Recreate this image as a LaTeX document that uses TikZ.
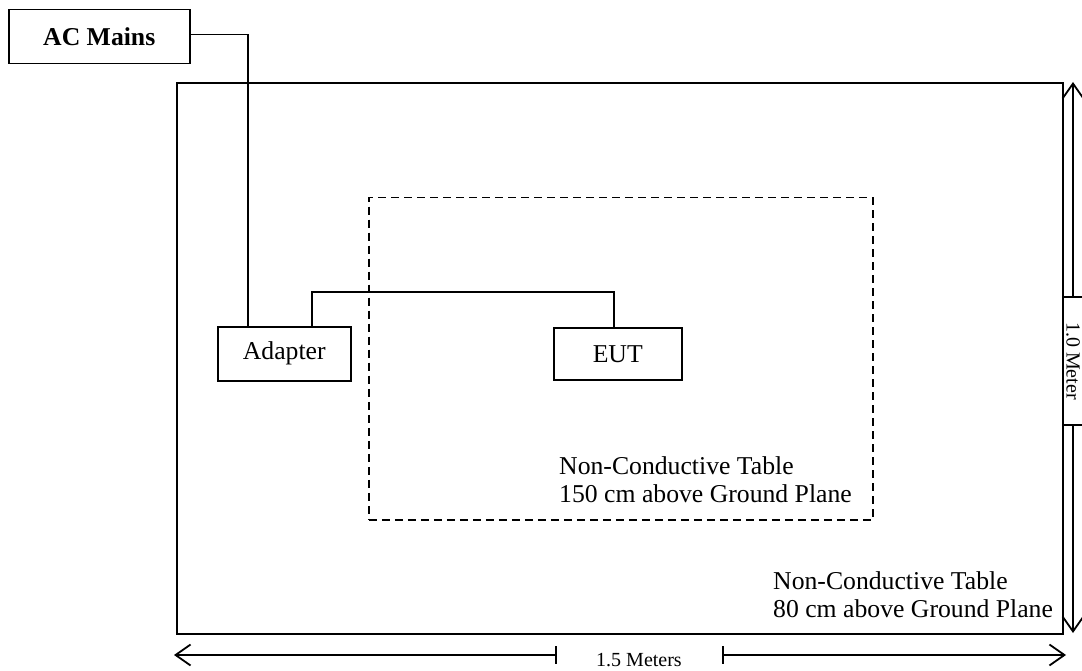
\documentclass[tikz,border=0pt]{standalone}
\usepackage{fontspec}
\setmainfont{Liberation Serif}
\usetikzlibrary{arrows.meta}
\begin{document}
\begin{tikzpicture}[x=1pt,y=-1pt,
  txt/.style={font=\fontsize{25.7}{28}\selectfont},
  box/.style={draw,line width=1.5pt,inner sep=0pt,anchor=north west,txt},
  wire/.style={line width=1.5pt},
  lbl/.style={inner sep=0pt,align=left,anchor=west,txt},
  dim/.style={line width=1.5pt},
  dimtip/.style={-{Straight Barb[length=15pt,width=21pt,line width=1.8pt]}},
  dimlbl/.style={inner sep=0pt,font=\fontsize{20}{24}\selectfont}]
\useasboundingbox (0,0) rectangle (1082,671);
% boxes
\node[box,minimum width=181pt,minimum height=54pt,font=\bfseries\fontsize{25.7}{28}\selectfont] (ac) at (8,9) {AC Mains};
\node[draw,line width=2pt,inner sep=0pt,anchor=north west,minimum width=886pt,minimum height=551pt] (table) at (176,82) {};
\node[draw,dashed,dash pattern=on 8pt off 5pt,line width=1.5pt,inner sep=0pt,anchor=north west,minimum width=504pt,minimum height=322pt] (inner) at (368,197) {};
\node[box,minimum width=133pt,minimum height=54pt] (ad) at (217,326) {Adapter};
\node[box,minimum width=128pt,minimum height=52pt] (eut) at (553,327) {EUT};
% labels
\node[lbl] (l150) at (559,480) {Non-Conductive Table\\150 cm above Ground Plane};
\node[lbl] (l80) at (773,595) {Non-Conductive Table\\80 cm above Ground Plane};
% wires
\draw[wire] ([yshift=2pt]ac.east) -| ([xshift=31pt]ad.north west);
\draw[wire] ([xshift=95pt]ad.north west) -- ++(0,-34) -| ([xshift=61pt]eut.north west);
% vertical dimension
\coordinate (vt) at (1073,82);
\coordinate (vb) at (1073,633);
\coordinate (vk1) at (1073,297);
\coordinate (vk2) at (1073,425);
\node[dimlbl,rotate=-90] (vl) at (1073,361) {1.0 Meter};
\draw[dim] ([xshift=-11pt]vk1) -- ([xshift=9pt]vk1);
\draw[dim] ([xshift=-11pt]vk2) -- ([xshift=9pt]vk2);
\draw[dim,dimtip] (vk1) -- (vt);
\draw[dim,dimtip] (vk2) -- (vb);
% horizontal dimension
\coordinate (hl) at (174,655);
\coordinate (hr) at (1066,655);
\coordinate (hk1) at (556,655);
\coordinate (hk2) at (723,655);
\node[dimlbl] (hlab) at (639,660) {1.5 Meters};
\draw[dim] ([yshift=9pt]hk1) -- ([yshift=-9pt]hk1);
\draw[dim] ([yshift=9pt]hk2) -- ([yshift=-9pt]hk2);
\draw[dim,dimtip] (hk1) -- (hl);
\draw[dim,dimtip] (hk2) -- (hr);
\end{tikzpicture}
\end{document}
